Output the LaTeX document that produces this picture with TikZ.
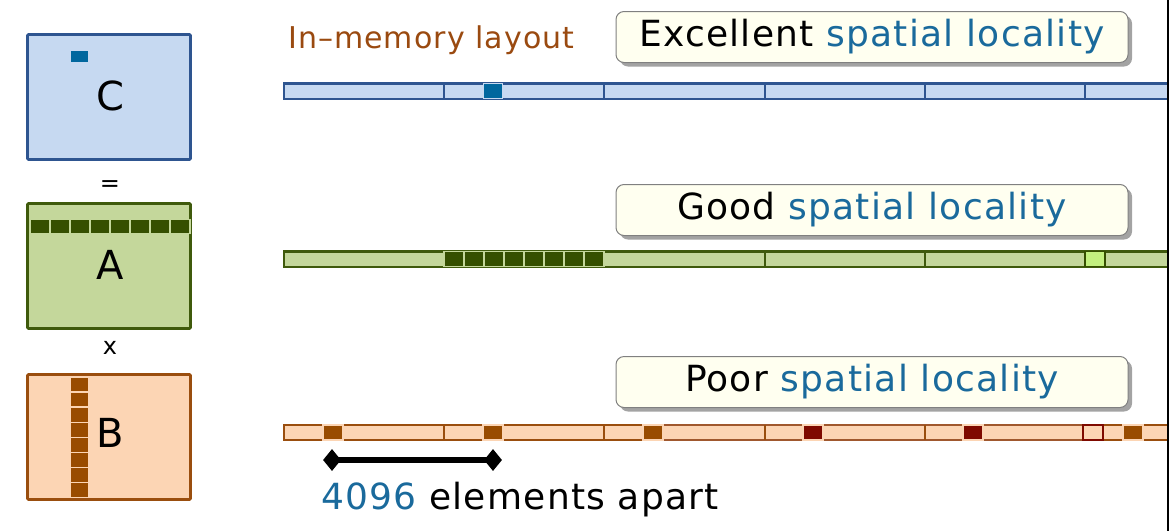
\documentclass[tikz,border=0pt]{standalone}
\usepackage{fontspec}
\setmainfont{DejaVu Sans}
\newfontfamily\spaced[LetterSpace=3.5]{DejaVu Sans}
\usetikzlibrary{shapes.geometric,shadows}
\definecolor{cfill}{HTML}{C6D9F1}
\definecolor{cline}{HTML}{2E5590}
\definecolor{cdark}{HTML}{00679E}
\definecolor{afill}{HTML}{C4D79B}
\definecolor{aline}{HTML}{3F5A0C}
\definecolor{adark}{HTML}{354F00}
\definecolor{alight}{HTML}{C3F07F}
\definecolor{bfill}{HTML}{FCD5B4}
\definecolor{bline}{HTML}{9A4E0E}
\definecolor{bline2}{HTML}{A0582E}
\definecolor{bdark}{HTML}{994C00}
\definecolor{bred}{HTML}{7F0A00}
\definecolor{txtblue}{HTML}{1A6A9C}
\definecolor{layoutbrown}{HTML}{9A4A10}
\definecolor{ivory}{HTML}{FFFFF0}
\tikzset{
  matbox/.style={draw=#1, line width=2.6pt, rounded corners=1pt, minimum width=163pt, minimum height=125pt, inner sep=0pt},
  sq/.style 2 args={draw=#1, fill=#2, line width=1.2pt, inner sep=0pt, minimum width=19pt, minimum height=14pt},
  vsq/.style 2 args={draw=#1, fill=#2, line width=1.4pt, inner sep=0pt, minimum width=19pt, minimum height=14.1pt},
  bigletter/.style={font=\fontsize{40}{42}\selectfont, inner sep=0pt},
  op/.style={font=\fontsize{24}{26}\selectfont, inner sep=0pt},
  callout/.style={draw=gray, fill=ivory, rounded corners=8pt, line width=1pt, minimum width=512pt, minimum height=51pt, inner sep=0pt,
    drop shadow={shadow xshift=4pt, shadow yshift=-4pt, opacity=0.6, fill=black!60}, font=\spaced\fontsize{36}{40}\selectfont},
  bar/.style={line width=2.6pt},
  sep/.style={line width=2.6pt},
  tip/.style={diamond, fill=black, inner sep=0pt, minimum width=18pt, minimum height=22pt}
}
\begin{document}
\begin{tikzpicture}[x=1pt,y=-1pt]
\useasboundingbox (0,0) rectangle (1170,531);

% matrices
\node[matbox=cline, fill=cfill] (C) at (109,97) {};
\node[bigletter] (Cl) at (110,96) {C};
\node[sq={cfill}{cdark}, minimum height=13pt] (Cs) at (79.5,56.5) {};
\node[op] (eq) at (110,186) {=};
\node[matbox=aline, fill=afill] (A) at (109,266) {};
\node[bigletter] (Al) at (110,265) {A};
\foreach \k in {0,...,7} {
  \node[sq={afill}{adark}, minimum width=20pt] (Ar\k) at (40+20*\k,226.5) {};
}
\node[op] (times) at (110,348) {x};
\node[matbox=bline, fill=bfill] (B) at (109,437) {};
\node[bigletter] (Bl) at (110,433) {B};
\foreach \k in {0,...,7} {
  \node[vsq={bfill}{bdark}, minimum height=15.1pt] (Bc\k) at (79.5,384.5+15.1*\k) {};
}

% layout label
\node[text=layoutbrown, font=\spaced\fontsize{30}{34}\selectfont, inner sep=0pt, anchor=west] (lay) at (288,40) {In–memory layout};

% rows
\begin{scope}
\clip (0,0) rectangle (1167,531);
% row 1
\draw[bar, draw=cline, fill=cfill] (284,83.5) rectangle (1180,99) ;
\foreach \x in {444,604,765,925,1085} \draw[sep, draw=cline] (\x,83.5) -- (\x,99);
\node[sq={cfill}{cdark}, minimum width=19pt, minimum height=15pt] (r1) at (493,91.2) {};
% row 2
\draw[bar, draw=aline, fill=afill] (284,251.5) rectangle (1180,267) ;
\foreach \x in {765,925,1085} \draw[sep, draw=aline] (\x,251.5) -- (\x,267);
\foreach \k in {0,...,7} {
  \node[sq={afill}{adark}, minimum width=20pt, minimum height=15pt] (r2\k) at (454+20*\k,259.2) {};
}
\node[sq={adark}{alight}, minimum width=20pt, minimum height=15pt] (r2g) at (1095,259.2) {};
% row 3
\draw[bar, draw=bline, fill=bfill] (284,425) rectangle (1180,440) ;
\draw[bar, draw=bline2] (663,425) -- (1083,425) (663,440) -- (1083,440);
\foreach \x in {444,604,765,925} \draw[sep, draw=bline] (\x,425) -- (\x,440);
\node[sq={bred}{bfill}, minimum width=20pt, minimum height=15pt] (r3o) at (1093,432.5) {};
\foreach \x/\c [count=\i] in {333/bdark,493/bdark,653/bdark,813/bred,973/bred,1133/bdark} {
  \node[sq={bfill}{\c}, minimum width=20pt, minimum height=15pt] (r3\i) at (\x,432.5) {};
}
\end{scope}
\draw[line width=1.5pt] (1168,0) -- (1168,531);

% callouts
\node[callout] (c1) at (872,37) {Excellent \textcolor{txtblue}{spatial locality}};
\node[callout] (c2) at (872,210) {Good \textcolor{txtblue}{spatial locality}};
\node[callout] (c3) at (872,382) {Poor \textcolor{txtblue}{spatial locality}};

% distance bar
\node[tip] (d1) at (332,460) {};
\node[tip] (d2) at (493,460) {};
\draw[line width=6pt] (d1.center) -- (d2.center);
\node[font=\spaced\fontsize{36}{40}\selectfont, inner sep=0pt, anchor=west] (dist) at (321,500) {\textcolor{txtblue}{4096} elements apart};
\end{tikzpicture}
\end{document}
